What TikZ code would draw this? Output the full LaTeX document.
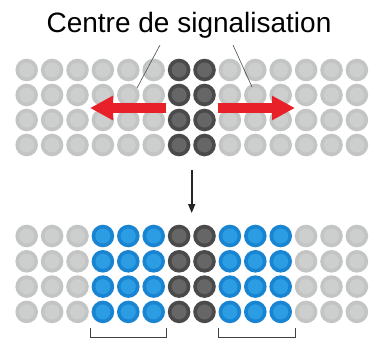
\documentclass[tikz,border=0pt]{standalone}
\usepackage{fontspec}
\setmainfont{Liberation Sans}
\usetikzlibrary{arrows.meta}
\definecolor{gout}{HTML}{C3C5C5}
\definecolor{gin}{HTML}{CDCFCF}
\definecolor{dout}{HTML}{4A4A4A}
\definecolor{din}{HTML}{666666}
\definecolor{bout}{HTML}{1985D2}
\definecolor{bin}{HTML}{2C9DE2}
\definecolor{redarr}{HTML}{E8202A}
\tikzset{
  ballg/.style={circle,minimum size=22.6pt,inner sep=0pt,fill=gout},
  balld/.style={circle,minimum size=22.6pt,inner sep=0pt,fill=dout},
  ballb/.style={circle,minimum size=22.6pt,inner sep=0pt,fill=bout},
  leader/.style={draw=black!70,line width=0.6pt},
  bracket/.style={draw=black!75,line width=0.8pt},
}
\begin{document}
\begin{tikzpicture}[x=1pt,y=-1pt]
\useasboundingbox (0,0) rectangle (380,340);
\fill[white] (0,0) rectangle (380,340);
% top grid
\foreach \r in {0,1,2,3}{
  \foreach \c in {0,...,13}{
    \pgfmathsetmacro{\xx}{26.7+25.4*\c}
    \pgfmathsetmacro{\yy}{70+25*\r}
    \ifnum\c=6 \def\st{d}\else\ifnum\c=7 \def\st{d}\else\def\st{g}\fi\fi
    \node[ball\st] (t\r-\c) at (\xx,\yy) {};
    \fill[\st in] (t\r-\c.center) circle (7.5pt);
  }
}
% bottom grid
\foreach \r in {0,1,2,3}{
  \foreach \c in {0,...,13}{
    \pgfmathsetmacro{\xx}{26.7+25.4*\c}
    \pgfmathsetmacro{\yy}{236+25.3*\r}
    \def\st{g}
    \ifnum\c>2 \ifnum\c<11 \def\st{b}\fi\fi
    \ifnum\c=6 \def\st{d}\fi
    \ifnum\c=7 \def\st{d}\fi
    \node[ball\st] (b\r-\c) at (\xx,\yy) {};
    \fill[\st in] (b\r-\c.center) circle (7.5pt);
  }
}
% title
\node[font=\fontsize{28}{30}\selectfont,anchor=base] (title) at (189,32) {Centre de signalisation};
\coordinate (l1) at (160,45);
\coordinate (l2) at (137,88);
\coordinate (r1) at (233,45);
\coordinate (r2) at (252,87);
\draw[leader] (l1) -- (l2);
\draw[leader] (r1) -- (r2);
% red arrows
\coordinate (la) at (166,108);
\coordinate (lb) at (90,108);
\coordinate (ra) at (218,108);
\coordinate (rb) at (295,108);
\draw[redarr,line width=10pt,-{Triangle[length=23pt,width=23pt]}] (la) -- (lb);
\draw[redarr,line width=10pt,-{Triangle[length=23pt,width=23pt]}] (ra) -- (rb);
% down arrow
\coordinate (da) at (191.7,170);
\coordinate (db) at (191.7,213);
\draw[black!85,line width=1.6pt,-{Triangle[length=9pt,width=7pt]}] (da) -- (db);
% brackets
\coordinate (k1) at (90.7,328);
\coordinate (k2) at (166.7,328);
\coordinate (k3) at (218,328);
\coordinate (k4) at (295,328);
\draw[bracket] (k1) -- ++(0,9) -| (k2);
\draw[bracket] (k3) -- ++(0,9) -| (k4);
\end{tikzpicture}
\end{document}
